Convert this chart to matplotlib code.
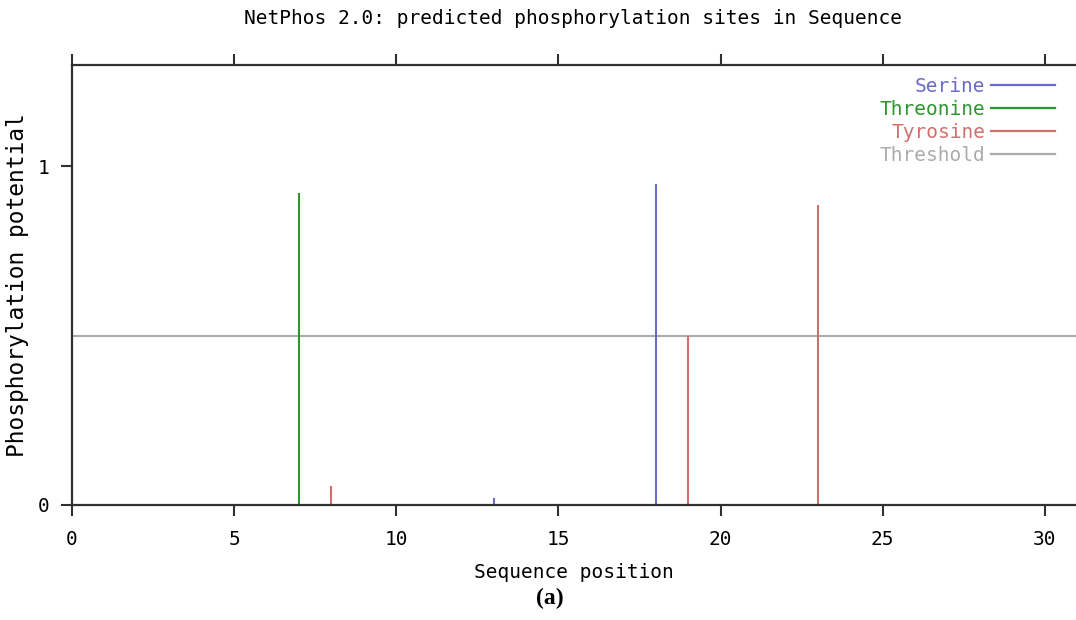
import matplotlib
matplotlib.use('Agg')
import matplotlib.pyplot as plt
from matplotlib.lines import Line2D

# predicted sites (position, potential)
serine_pos = [13, 18]
serine_val = [0.02, 0.947]
threonine_pos = [7]
threonine_val = [0.92]
tyrosine_pos = [8, 19, 23]
tyrosine_val = [0.056, 0.499, 0.885]
threshold = 0.5

x_ticks = [0, 5, 10, 15, 20, 25, 30]
y_ticks = [0, 1]

c_ser = '#6a6ac8'
c_thr = '#2e962e'
c_tyr = '#d26e6e'
c_thr_line = '#ababab'
axis_col = '#303030'

mono = 'DejaVu Sans Mono'
fs = 14

fig = plt.figure(figsize=(10.76, 6.2), dpi=100)
ax = fig.add_axes([72 / 1076, 1 - 505 / 620, 1 - 72 / 1076, (505 - 65) / 620])

ax.axhline(threshold, color=c_thr_line, lw=1.5, zorder=1)
ax.vlines(threonine_pos, 0, threonine_val, color=c_thr, lw=1.5, zorder=2)
ax.vlines(tyrosine_pos, 0, tyrosine_val, color=c_tyr, lw=1.5, zorder=2)
ax.vlines(serine_pos, 0, serine_val, color=c_ser, lw=1.5, zorder=2)

ax.set_xlim(0, 30.96)
ax.set_ylim(0, 1.298)
ax.set_xticks(x_ticks)
ax.set_yticks(y_ticks)
ax.tick_params(axis='x', which='both', top=True, bottom=True, direction='out',
               length=8, width=1.5, color=axis_col, labelsize=fs, pad=10)
ax.tick_params(axis='y', direction='out', length=8, width=1.5, color=axis_col,
               labelsize=fs, pad=8)
for lab in ax.get_xticklabels() + ax.get_yticklabels():
    lab.set_family(mono)

for side in ['left', 'bottom', 'top']:
    ax.spines[side].set_color(axis_col)
    ax.spines[side].set_linewidth(1.6)
ax.spines['right'].set_visible(False)

fig.text(573 / 1076, 1 - 19 / 620,
         'NetPhos 2.0: predicted phosphorylation sites in Sequence',
         family=mono, fontsize=fs, ha='center', va='center')
ax.set_xlabel('Sequence position', family=mono, fontsize=fs)
ax.xaxis.set_label_coords(0.5, -(573 - 505) / 440)
ax.xaxis.label.set_va('center')
ax.set_ylabel('Phosphorylation potential', family=mono, fontsize=16.5)
ax.yaxis.set_label_coords(-(72 - 18) / 1004, (505 - 285) / 440)
ax.yaxis.label.set_va('center')

handles = [Line2D([], [], color=c_ser, lw=1.6),
           Line2D([], [], color=c_thr, lw=1.6),
           Line2D([], [], color=c_tyr, lw=1.6),
           Line2D([], [], color=c_thr_line, lw=1.6)]
labels = ['Serine', 'Threonine', 'Tyrosine', 'Threshold']
leg = ax.legend(handles, labels, loc='upper right', bbox_to_anchor=(0.987, 0.99),
                frameon=False, markerfirst=False, handlelength=3.3,
                handletextpad=0.3, labelspacing=0.2, borderaxespad=0,
                prop={'family': mono, 'size': fs})
for txt, h in zip(leg.get_texts(), handles):
    txt.set_color(h.get_color())

fig.text(550 / 1076, 1 - 598 / 620, '(a)', family='Liberation Serif',
         fontweight='bold', fontsize=17, ha='center', va='center')

fig.savefig('out.png', dpi=100)
